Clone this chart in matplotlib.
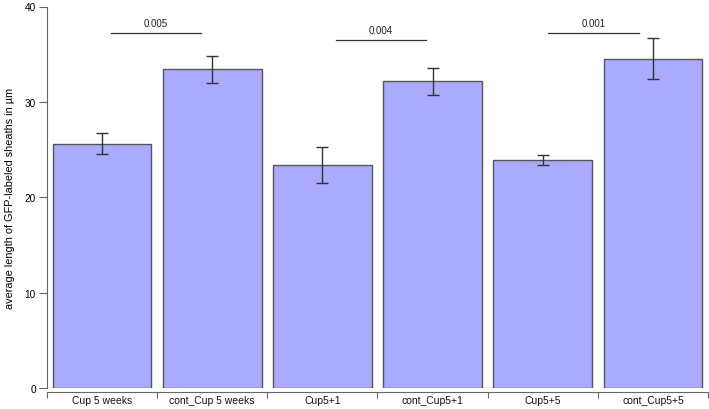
import matplotlib
matplotlib.use("Agg")
import matplotlib.pyplot as plt
import matplotlib.transforms as mtransforms
import numpy as np

categories = ["Cup 5 weeks", "cont_Cup 5 weeks", "Cup5+1", "cont_Cup5+1", "Cup5+5", "cont_Cup5+5"]
means = [25.6, 33.4, 23.4, 32.15, 23.9, 34.55]
errors = [1.1, 1.4, 1.9, 1.45, 0.55, 2.1]
sig_labels = ["0.005", "0.004", "0.001"]
sig_x0 = [0.08, 2.12, 4.05]
sig_x1 = [0.90, 2.94, 4.87]
sig_y = [37.2, 36.5, 37.2]
yticks = [0, 10, 20, 30, 40]

plt.rcParams['font.family'] = ['Liberation Sans', 'DejaVu Sans']

fig = plt.figure(figsize=(7.09, 4.10), dpi=100)
ax_h = (389.3 - 7.5) / 410
ax = fig.add_axes([47/709, 1-389.3/410, 661/709, ax_h])

x = np.arange(len(categories))
ax.bar(x, means, width=0.895, color="#aaaaff", edgecolor="#555555", linewidth=1.0, zorder=2)
ax.errorbar(x, means, yerr=errors, fmt="none", ecolor="#333333", elinewidth=1.0,
            capsize=4.5, capthick=1.0, zorder=3)

for x0, x1, y, lab in zip(sig_x0, sig_x1, sig_y, sig_labels):
    ax.plot([x0, x1], [y, y], color="#333333", lw=0.9)
    ax.text((x0 + x1) / 2, y + 0.55, lab, ha="center", va="bottom", fontsize=7, color="#222222")

ax.set_xlim(-0.5, len(categories) - 0.5)
ax.set_ylim(0, 40)
ax.set_yticks(yticks)
ax.set_xticks(np.arange(len(categories) + 1) - 0.5)
ax.set_xticklabels([])
ax.tick_params(axis="x", which="major", length=4, color="#666666")
ax.tick_params(axis="y", length=5.5, color="#666666", labelsize=7.2, pad=2.5)

# category labels below the axis
trans = mtransforms.blended_transform_factory(ax.transData, ax.transAxes)
label_y = -(404.5 - 389.3) / 410 / ax_h
for xi, cat in zip(x, categories):
    ax.text(xi, label_y, cat, transform=trans, ha="center", va="baseline",
            fontsize=7.5, color="#111111", clip_on=False)

for s in ["top", "right"]:
    ax.spines[s].set_visible(False)
ax.spines["left"].set_color("#666666")
ax.spines["bottom"].set_color("#666666")
ax.spines["bottom"].set_position(("outward", 2.5))

ax.set_ylabel("average length of GFP-labeled sheaths in µm", fontsize=7.8, labelpad=7)

fig.savefig("out.png", dpi=100)
